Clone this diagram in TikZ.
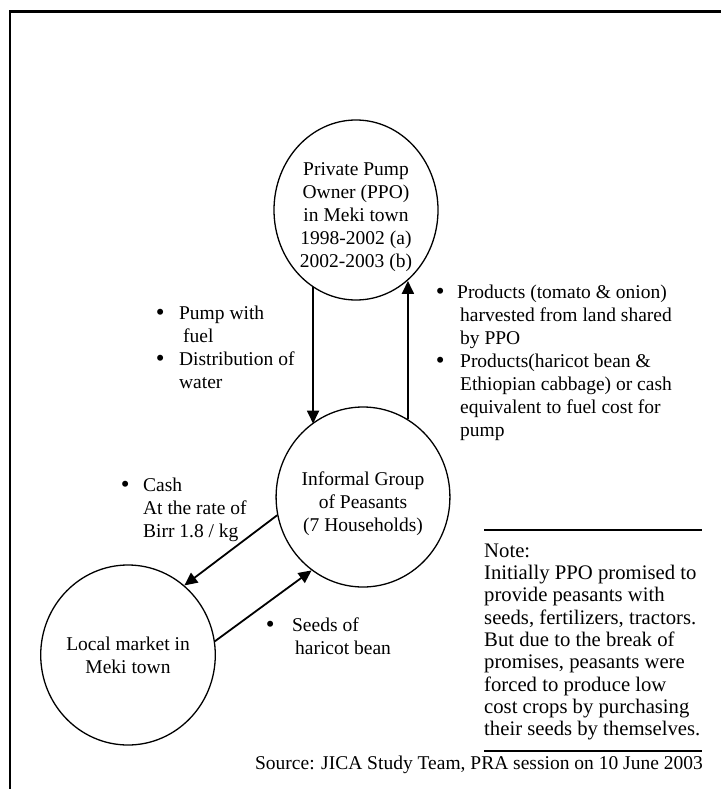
\documentclass[tikz,border=0pt]{standalone}
\usepackage{fontspec}
\usepackage{graphicx}
\setmainfont{Liberation Serif}
\usetikzlibrary{shapes.geometric,arrows.meta,calc}

% list bullet, a little larger than the text bullet
\newcommand{\dotmark}{\raisebox{-1.5pt}{\fontsize{25}{23}\selectfont\textbullet}}

\begin{document}
\begin{tikzpicture}[x=1pt,y=-1pt,
  every node/.style={font=\fontsize{19.5}{23}\selectfont},
  actor/.style={ellipse, draw, line width=1.3pt, inner sep=0pt,
                minimum height=180pt, align=center},
  flow/.style={line width=1.8pt, -{Triangle[length=13pt,width=12pt]}},
  lbl/.style={inner sep=0pt, anchor=north west},
  rulebar/.style={line width=1.6pt},
]
\useasboundingbox (0,0) rectangle (720,789);

% outer frame (only the left and top edges fall inside the page)
\draw[line width=2.2pt] (10,790) -- (10,11.5) -- (721,11.5);

% actors
\node[actor, minimum width=164pt] (ppo) at (356,210)
  {\rule{0pt}{28pt}Private Pump\\Owner (PPO)\\in Meki town\\1998-2002 (a)\\2002-2003 (b)};
\node[actor, minimum width=168pt] (grp) at (363,497)
  {\rule{0pt}{28pt}Informal Group\\of Peasants\\(7 Households)};
\node[actor, minimum width=168pt] (mkt) at (128,655)
  {Local market in\\Meki town};

% flows
\draw[flow] (ppo.-119) -- (ppo.-119 |- grp.125);
\draw[flow] (grp.60) -- (grp.60 |- ppo.-54);
\draw[flow] (grp.192) -- (mkt.51);
\draw[flow] (mkt.9) -- (grp.235);

% flow descriptions
\node[lbl] (pump) at (155.6,303)
  {\begin{tabular}{@{}l@{\hspace{14.6pt}}l@{}}
   \dotmark & Pump with\\
            & \hspace{4pt}fuel\\
   \dotmark & Distribution of\\
            & water
   \end{tabular}};

\node[lbl] (prod) at (435.6,282)
  {\begin{tabular}{@{}l@{\hspace{15.6pt}}l@{}}
   \dotmark & \hspace{-3pt}Products (tomato \& onion)\\
            & harvested from land shared\\
            & by PPO\\
   \dotmark & Products(haricot bean \&\\
            & Ethiopian cabbage) or cash\\
            & equivalent to fuel cost for\\
            & pump
   \end{tabular}};

\node[lbl] (cash) at (120.6,475)
  {\begin{tabular}{@{}l@{\hspace{13.6pt}}l@{}}
   \dotmark & Cash\\
            & At the rate of\\
            & Birr 1.8 / kg
   \end{tabular}};

\node[lbl] (seeds) at (265.6,615)
  {\begin{tabular}{@{}l@{\hspace{17.6pt}}l@{}}
   \dotmark & Seeds of\\
            & \hspace{3pt}haricot bean
   \end{tabular}};

% note between two rules
\node[lbl, font=\fontsize{20.7}{22.3}\selectfont] (note) at (484,541.4)
  {\begin{tabular}{@{}l@{}}
   Note:\\
   Initially PPO promised to\\
   provide peasants with\\
   seeds, fertilizers, tractors.\\
   But due to the break of\\
   promises, peasants were\\
   forced to produce low\\
   cost crops by purchasing\\
   their seeds by themselves.
   \end{tabular}};
\draw[rulebar] ($(note.north west)+(0,-11.4)$) -- ++(218,0);
\draw[rulebar] ($(note.south west)+(0,8.4)$) -- ++(218,0);

% source line
\node[anchor=base east, inner sep=0pt] (src) at (703,769)
  {Source: JICA Study Team, PRA session on 10 June 2003};
\end{tikzpicture}
\end{document}
